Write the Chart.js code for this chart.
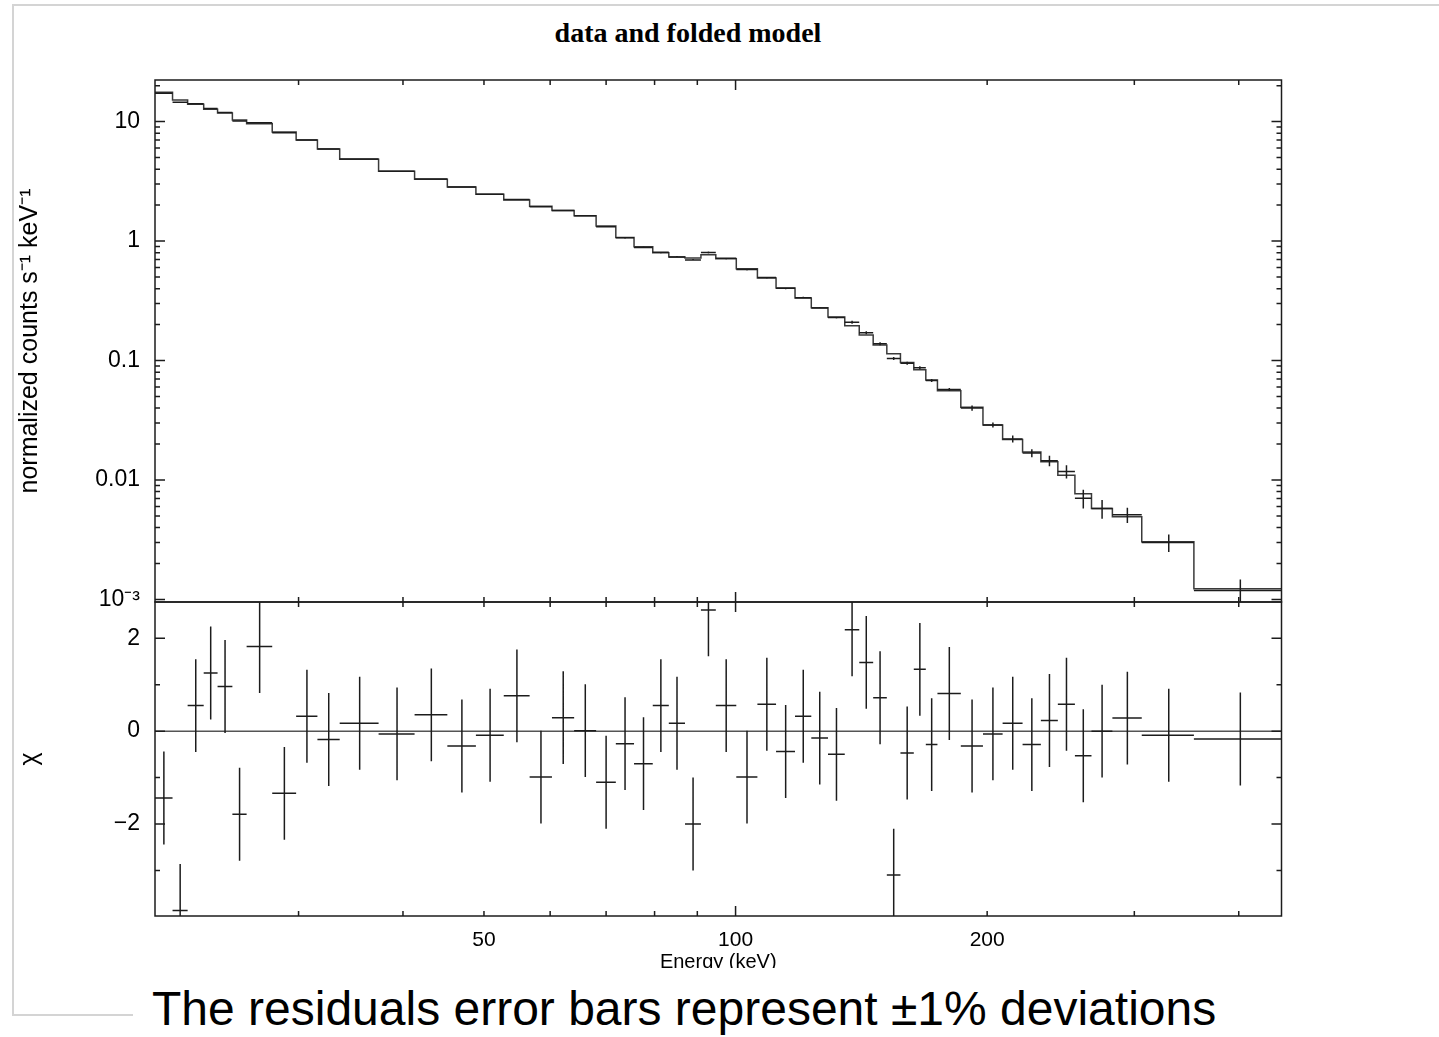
<!DOCTYPE html>
<html>
<head>
<meta charset="utf-8">
<title>data and folded model</title>
<script src="https://cdn.jsdelivr.net/npm/chart.js@4.4.1/dist/chart.umd.min.js"></script>
<style>
    html, body { margin: 0; padding: 0; background: #fff; }
    body { width: 1439px; height: 1037px; position: relative; overflow: hidden; font-family: "Liberation Sans", Arial, sans-serif; }
    .sheet { position: absolute; left: 12px; top: 4px; width: 1427px; height: 1012px; border-top: 2px solid #d4d4d4; border-left: 2px solid #d4d4d4; box-sizing: border-box; }
    .sheet-foot { position: absolute; left: 12px; top: 1014px; width: 121px; border-top: 2px solid #d4d4d4; }
    .plot-title { position: absolute; left: 488px; top: 19px; width: 400px; text-align: center; font: bold 28px/28px "Liberation Serif", "Times New Roman", serif; color: #000; }
    #topBox { position: absolute; left: 0; top: 0; width: 1300px; height: 610px; }
    #bottomClip { position: absolute; left: 0; top: 590px; width: 1300px; height: 378px; overflow: hidden; }
    #bottomBox { position: relative; width: 1300px; height: 420px; }
    .caption { position: absolute; left: 152px; top: 985px; font-size: 48px; line-height: 1; color: #000; white-space: nowrap; }
</style>
</head>
<body>
<div class="sheet"></div>
<div class="sheet-foot"></div>
<div class="plot-title">data and folded model</div>
<div id="topBox"><canvas id="spectrum"></canvas></div>
<div id="bottomClip"><div id="bottomBox"><canvas id="residuals"></canvas></div></div>
<div class="caption">The residuals error bars represent ±1% deviations</div>
<script>
// channel bin edges (keV), 52 bins
const energyEdges = [20.2, 21.2, 22.1, 23.1, 24.0, 25.0, 26.0, 27.9, 29.8, 31.6, 33.6, 37.4, 41.3, 45.2,
    48.9, 52.8, 56.7, 60.3, 64.1, 68.1, 71.9, 75.6, 79.6, 83.2, 87.0, 90.9, 94.7, 100.2, 106.2, 111.8,
    117.8, 123.2, 129.0, 135.1, 140.6, 146.1, 151.7, 157.5, 163.4, 168.9, 174.4, 186.0, 197.7, 208.7,
    220.5, 231.9, 243.0, 254.7, 266.6, 282.4, 306.2, 353.5, 450];

// folded model, counts s-1 keV-1
const modelRate = [17.6, 15.2, 14.0, 12.7, 11.8, 10.3, 9.6, 8.2, 7.0, 5.9, 4.85, 3.85, 3.30, 2.84, 2.47,
    2.21, 1.96, 1.80, 1.63, 1.335, 1.07, 0.896, 0.798, 0.735, 0.721, 0.768, 0.711, 0.587, 0.490, 0.405,
    0.334, 0.277, 0.231, 0.196, 0.164, 0.135, 0.114, 0.0964, 0.0839, 0.0688, 0.0560, 0.0406, 0.0289,
    0.0218, 0.0172, 0.0142, 0.01097, 0.00767, 0.00578, 0.00492, 0.00304, 0.00123];

// measured rate and its 1-sigma error
const dataRate = [17.3, 14.5, 14.1, 12.9, 11.9, 10.1, 9.8, 8.07, 7.01, 5.89, 4.86, 3.85, 3.31, 2.83, 2.47,
    2.23, 1.94, 1.80, 1.63, 1.32, 1.065, 0.885, 0.806, 0.737, 0.696, 0.803, 0.718, 0.577, 0.495, 0.402,
    0.336, 0.276, 0.229, 0.209, 0.171, 0.138, 0.104, 0.0951, 0.0872, 0.0682, 0.0573, 0.0400, 0.0289,
    0.0221, 0.0168, 0.0145, 0.0118, 0.00703, 0.00578, 0.00511, 0.00300, 0.00119];
const dataSigma = [0.20, 0.17, 0.16, 0.15, 0.14, 0.12, 0.11, 0.094, 0.081, 0.068, 0.056, 0.045, 0.038,
    0.033, 0.029, 0.026, 0.022, 0.021, 0.019, 0.015, 0.0185, 0.0154, 0.014, 0.0128, 0.0121, 0.014,
    0.0125, 0.010, 0.0086, 0.0070, 0.0058, 0.0048, 0.0040, 0.0061, 0.0050, 0.0040, 0.0030, 0.0028,
    0.0025, 0.0020, 0.0017, 0.0020, 0.0014, 0.0015, 0.0013, 0.00145, 0.0015, 0.00125, 0.00103,
    0.00075, 0.0005, 0.00028];

// residuals in sigma units, each with a +-1 error bar
const chi = [-1.44, -3.86, 0.55, 1.25, 0.96, -1.79, 1.82, -1.34, 0.32, -0.18, 0.17, -0.06, 0.35, -0.32,
    -0.09, 0.76, -0.99, 0.29, 0.01, -1.10, -0.27, -0.70, 0.55, 0.17, -2.0, 2.61, 0.55, -0.99, 0.58,
    -0.44, 0.32, -0.15, -0.50, 2.18, 1.48, 0.72, -3.10, -0.47, 1.33, -0.29, 0.81, -0.32, -0.06, 0.17,
    -0.29, 0.23, 0.58, -0.53, 0.0, 0.28, -0.09, -0.17];
const chiError = 1;

const energyTickValues = [50, 100, 200];
const energyTickLabels = ["50", "100", "200"];
const energyMajor = [100];
const energyMinor = [30, 40, 50, 60, 70, 80, 90, 200, 300, 400];

const rateTickValues = [0.001, 0.01, 0.1, 1, 10];
const rateTickLabels = ["10\u207B\u00B3", "0.01", "0.1", "1", "10"];

const chiTickValues = [-2, 0, 2];
const chiTickLabels = ["\u22122", "0", "2"];
const chiMajor = [-2, 0, 2];
const chiMinor = [-3, -1, 1];

const energyRange = {min: 20.2, max: 450};
const rateRange = {min: 0.000953, max: 22.3};
const chiRange = {min: -3.98, max: 2.78};

const INK = "#1c1c1c";
const SANS = "'Liberation Sans', Arial, sans-serif";

function rateMinorTicks() {
    const out = [];
    rateTickValues.forEach((decade) => {
        for (let m = 2; m <= 9; m++) {
            const v = decade * m;
            if (v < rateRange.max) {
                out.push(v);
            }
        }
    });
    return out;
}

function crossPoints(values, lows, highs) {
    return values.map((v, i) => ({
        x: (energyEdges[i] + energyEdges[i + 1]) / 2,
        y: v,
        xMin: energyEdges[i],
        xMax: energyEdges[i + 1],
        yMin: lows[i],
        yMax: highs[i]
    }));
}

const modelSteps = modelRate.map((v, i) => ({x: energyEdges[i], y: v}))
    .concat([{x: energyEdges[energyEdges.length - 1], y: modelRate[modelRate.length - 1]}]);
const spectrumCrosses = crossPoints(dataRate,
    dataRate.map((v, i) => v - dataSigma[i]),
    dataRate.map((v, i) => v + dataSigma[i]));
const residualCrosses = crossPoints(chi,
    chi.map((v) => v - chiError),
    chi.map((v) => v + chiError));

// data crosses: horizontal bar over the channel, vertical bar over the error
const crossBars = {
    id: "crossBars",
    afterDatasetsDraw(chart) {
        const {ctx, chartArea: area, scales: {x, y}} = chart;
        ctx.save();
        ctx.beginPath();
        ctx.rect(area.left, area.top, area.right - area.left, area.bottom - area.top);
        ctx.clip();
        chart.data.datasets.forEach((ds) => {
            if (!ds.crosses) {
                return;
            }
            ctx.strokeStyle = ds.borderColor;
            ctx.lineWidth = ds.crossWidth;
            ctx.beginPath();
            ds.data.forEach((p) => {
                const cx = x.getPixelForValue(p.x);
                const cy = y.getPixelForValue(p.y);
                ctx.moveTo(x.getPixelForValue(p.xMin), cy);
                ctx.lineTo(x.getPixelForValue(p.xMax), cy);
                ctx.moveTo(cx, y.getPixelForValue(p.yMin));
                ctx.lineTo(cx, y.getPixelForValue(p.yMax));
            });
            ctx.stroke();
        });
        ctx.restore();
    }
};

// box round the plot with inward ticks on all four sides
function frameTicks(xMajor, xMinor, yMajor, yMinor) {
    return {
        id: "frameTicks",
        afterDraw(chart) {
            const {ctx, chartArea: a, scales: {x, y}} = chart;
            ctx.save();
            ctx.strokeStyle = INK;
            ctx.lineWidth = 1.5;
            ctx.strokeRect(a.left, a.top, a.right - a.left, a.bottom - a.top);
            ctx.beginPath();
            const xTicks = (values, len) => values.forEach((v) => {
                const px = x.getPixelForValue(v);
                ctx.moveTo(px, a.top);
                ctx.lineTo(px, a.top + len);
                ctx.moveTo(px, a.bottom);
                ctx.lineTo(px, a.bottom - len);
            });
            const yTicks = (values, len) => values.forEach((v) => {
                const py = y.getPixelForValue(v);
                ctx.moveTo(a.left, py);
                ctx.lineTo(a.left + len, py);
                ctx.moveTo(a.right, py);
                ctx.lineTo(a.right - len, py);
            });
            xTicks(xMajor, 10);
            xTicks(xMinor, 5);
            yTicks(yMajor, 10);
            yTicks(yMinor, 5);
            ctx.stroke();
            ctx.restore();
        }
    };
}

// fixed axis box, no label overhang padding
function fixedWidth(px) {
    return (scale) => {
        scale.width = px;
        scale.paddingTop = 0;
        scale.paddingBottom = 0;
    };
}

function fixedHeight(px) {
    return (scale) => {
        scale.height = px;
        scale.paddingLeft = 0;
        scale.paddingRight = 0;
    };
}

Chart.defaults.font.family = SANS;
Chart.defaults.color = "#000";

const quiet = {
    responsive: true,
    maintainAspectRatio: false,
    animation: false,
    events: []
};

new Chart(document.getElementById("spectrum"), {
    type: "line",
    data: {
        datasets: [
            {
                label: "folded model",
                data: modelSteps,
                stepped: "before",
                borderColor: "#3a3a3a",
                borderWidth: 1.5,
                pointRadius: 0,
                fill: false
            },
            {
                label: "data",
                type: "scatter",
                data: spectrumCrosses,
                pointRadius: 0,
                crosses: true,
                crossWidth: 1.5,
                borderColor: INK
            }
        ]
    },
    options: Object.assign({}, quiet, {
        layout: {padding: {left: 0, right: 18.5, top: 80, bottom: 8}},
        plugins: {
            legend: {display: false},
            tooltip: {enabled: false}
        },
        scales: {
            x: Object.assign({type: "logarithmic", display: false}, energyRange),
            y: Object.assign({
                type: "logarithmic",
                afterFit: fixedWidth(155),
                afterBuildTicks: (scale) => { scale.ticks = rateTickValues.map((v) => ({value: v})); },
                grid: {display: false, drawTicks: false},
                border: {display: false},
                ticks: {padding: 15, font: {size: 23}, callback: (v, i) => rateTickLabels[i]},
                title: {
                    display: true,
                    text: "normalized counts s\u207B\u00B9 keV\u207B\u00B9",
                    font: {size: 25},
                    padding: {top: 15, bottom: 0}
                }
            }, rateRange)
        }
    }),
    plugins: [crossBars, frameTicks(energyMajor, energyMinor, rateTickValues, rateMinorTicks())]
});

new Chart(document.getElementById("residuals"), {
    type: "line",
    data: {
        datasets: [
            {
                label: "zero",
                data: [{x: energyRange.min, y: 0}, {x: energyRange.max, y: 0}],
                borderColor: "#555",
                borderWidth: 1.5,
                pointRadius: 0,
                fill: false
            },
            {
                label: "residuals",
                type: "scatter",
                data: residualCrosses,
                pointRadius: 0,
                crosses: true,
                crossWidth: 1.5,
                borderColor: INK
            }
        ]
    },
    options: Object.assign({}, quiet, {
        layout: {padding: {left: 0, right: 18.5, top: 12, bottom: 0}},
        plugins: {
            legend: {display: false},
            tooltip: {enabled: false}
        },
        scales: {
            x: Object.assign({
                type: "logarithmic",
                afterFit: fixedHeight(94),
                afterBuildTicks: (scale) => { scale.ticks = energyTickValues.map((v) => ({value: v})); },
                grid: {display: false, drawTicks: false},
                border: {display: false},
                ticks: {autoSkip: false, maxRotation: 0, padding: 11.4, font: {size: 21},
                    callback: (v, i) => energyTickLabels[i]},
                title: {display: true, text: "Energy (keV)", font: {size: 20}, padding: {top: 0, bottom: 36}}
            }, energyRange),
            y: Object.assign({
                type: "linear",
                afterFit: fixedWidth(155),
                afterBuildTicks: (scale) => { scale.ticks = chiTickValues.map((v) => ({value: v})); },
                grid: {display: false, drawTicks: false},
                border: {display: false},
                ticks: {padding: 15, font: {size: 23}, callback: (v, i) => chiTickLabels[i]},
                title: {display: true, text: "\u03C7", font: {size: 25}, padding: {top: 15, bottom: 0}}
            }, chiRange)
        }
    }),
    plugins: [crossBars, frameTicks(energyMajor, energyMinor, chiMajor, chiMinor)]
});
</script>
</body>
</html>
